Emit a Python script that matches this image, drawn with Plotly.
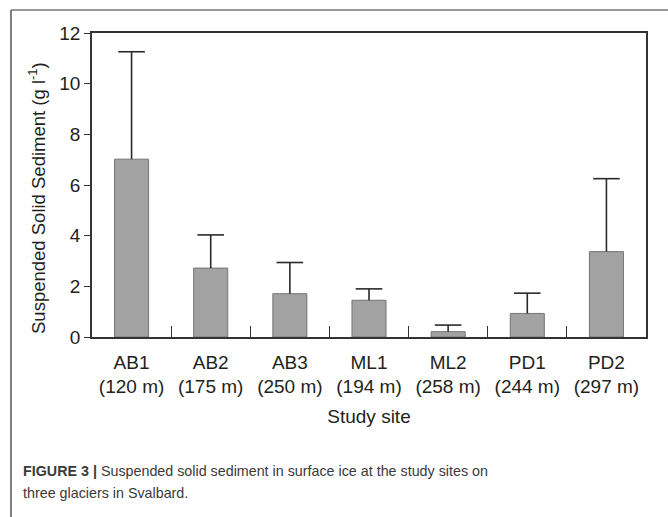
import plotly.graph_objects as go

sites = ["AB1", "AB2", "AB3", "ML1", "ML2", "PD1", "PD2"]
elevations = ["(120 m)", "(175 m)", "(250 m)", "(194 m)", "(258 m)", "(244 m)", "(297 m)"]
sediment = [7.02, 2.72, 1.71, 1.45, 0.21, 0.93, 3.37]
sediment_sd = [4.24, 1.31, 1.23, 0.45, 0.26, 0.80, 2.88]
y_ticks = [0, 2, 4, 6, 8, 10, 12]
caption_lines = [
    "<b>FIGURE 3 |</b> Suspended solid sediment in surface ice at the study sites on",
    "three glaciers in Svalbard.",
]

tick_labels = [f"{s}<br>{e}" for s, e in zip(sites, elevations)]
tops = [v + e for v, e in zip(sediment, sediment_sd)]

W, H = 668, 517
L, R, T, B = 92, 22, 33, 180
pw, ph = W - L - R, H - T - B

def px_x(x):
    return (x - L) / pw

def px_y(y):
    return (H - B - y) / ph

FONT = "Liberation Sans"
TXT = "#231f20"

fig = go.Figure()
fig.add_trace(go.Bar(
    x=sites, y=sediment, width=0.43,
    marker=dict(color="#a2a2a2", line=dict(color="#747474", width=1)),
    showlegend=False, hoverinfo="skip",
))
# upper error bars: vertical line from bar top, cap marker at top
fig.add_trace(go.Scatter(
    x=sites, y=tops, mode="markers",
    marker=dict(symbol="line-ew", size=19, line=dict(color="#2a2a2a", width=1.6), color="#2a2a2a"),
    error_y=dict(type="data", symmetric=False, array=[0] * len(sites),
                 arrayminus=sediment_sd, width=0, thickness=1.6, color="#2a2a2a"),
    showlegend=False, hoverinfo="skip", cliponaxis=False,
))

annotations = [
    dict(xref="paper", yref="paper", x=px_x(37), y=px_y(198), xanchor="center", yanchor="middle",
         textangle=-90, showarrow=False,
         text="Suspended Solid Sediment (g l<sup>-1</sup>)",
         font=dict(family=FONT, size=18.5, color=TXT)),
]
for i, line in enumerate(caption_lines):
    annotations.append(dict(
        xref="paper", yref="paper", x=px_x(21), y=px_y(471 + 22 * i), xanchor="left", yanchor="middle",
        align="left", showarrow=False, text=line,
        font=dict(family=FONT, size=14.3, color="#3a3a3a")))

fig.update_layout(
    width=W, height=H,
    margin=dict(l=L, r=R, t=T, b=B, autoexpand=False),
    paper_bgcolor="white", plot_bgcolor="white",
    font=dict(family=FONT, size=19, color=TXT),
    xaxis=dict(
        type="category", tickvals=sites, ticktext=tick_labels,
        tickson="boundaries", ticks="inside", ticklen=11, tickwidth=1.3, tickcolor="#333",
        showline=True, linecolor="#333", linewidth=1.5, mirror=True,
        showgrid=False, zeroline=False, automargin=False,
        tickfont=dict(family=FONT, size=19, color=TXT), ticklabelstandoff=7,
        title=dict(text="Study site", font=dict(family=FONT, size=19, color=TXT), standoff=13),
        range=[-0.5, 6.5],
    ),
    yaxis=dict(
        range=[0, 12], tickvals=y_ticks, ticks="outside", ticklen=6, tickwidth=1.3, tickcolor="#333",
        showline=True, linecolor="#333", linewidth=1.5, mirror=True,
        showgrid=False, zeroline=False, automargin=False,
        tickfont=dict(family=FONT, size=19, color=TXT),
    ),
    shapes=[
        dict(type="line", xref="paper", yref="paper", x0=px_x(11), x1=px_x(11), y0=px_y(10), y1=px_y(530),
             line=dict(color="#555", width=1.5)),
        dict(type="line", xref="paper", yref="paper", x0=px_x(11), x1=px_x(680), y0=px_y(10), y1=px_y(10),
             line=dict(color="#777", width=1.5)),
    ],
    annotations=annotations,
)

fig.write_html("out.html")
